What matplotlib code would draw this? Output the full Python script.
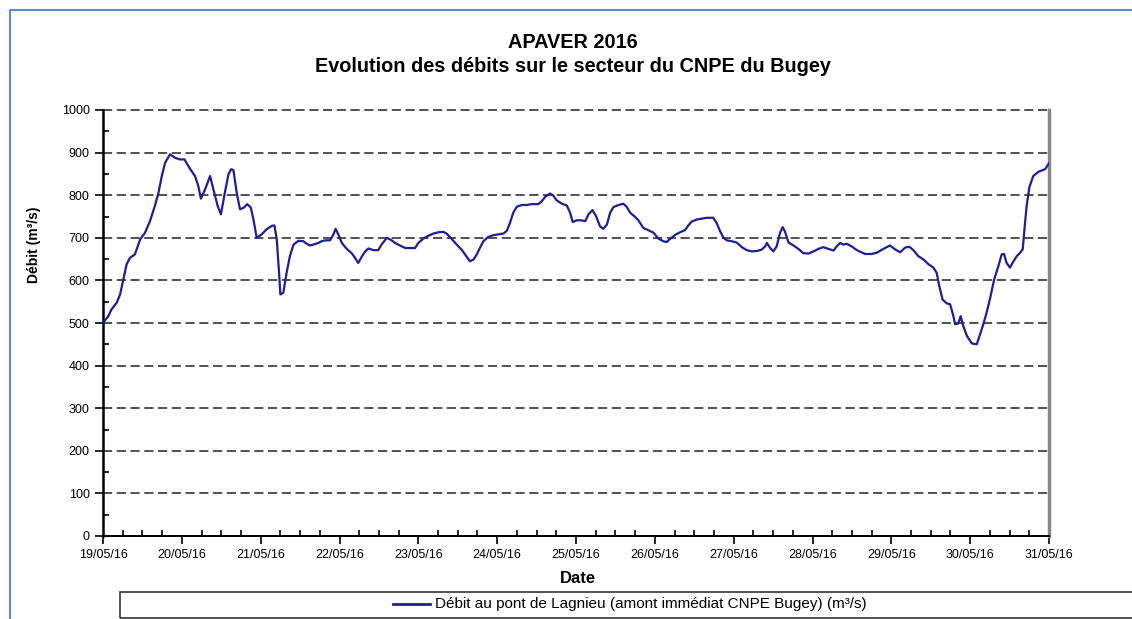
import numpy as np
import pandas as pd
import matplotlib
matplotlib.use("Agg")
import matplotlib.pyplot as plt
import matplotlib.dates as mdates
from matplotlib.lines import Line2D
from matplotlib.patches import Rectangle
from matplotlib.ticker import MultipleLocator

plt.rcParams['font.family'] = ['Liberation Sans', 'DejaVu Sans']

# hours since 19/05/16 00:00 and flow (m3/s)
hours = [0, 1.6, 2.6, 4.2, 5.2, 6.2, 7.2, 8.2, 9.7, 11.3, 12.8, 14.3, 15.8, 16.9, 17.9, 18.9,
         20.4, 21.9, 23.4, 24.8, 26.5, 28.0, 29.0, 29.8, 31.1, 32.6, 33.6, 34.9, 35.9, 37.1,
         38.2, 39.0, 39.7, 40.7, 41.7, 42.9, 43.9, 45.0, 45.8, 46.8, 48.3, 49.8, 51.4, 52.2,
         52.9, 53.6, 54.0, 54.9, 55.9, 56.9, 58.0, 59.5, 61.0, 62.0, 63.0, 64.0, 65.6, 66.6,
         67.6, 69.1, 70.1, 70.8, 71.7, 72.7, 74.2, 75.7, 76.7, 77.7, 78.8, 79.8, 80.8, 82.3,
         83.8, 84.8, 86.4, 87.9, 88.9, 90.4, 92.0, 93.5, 95.0, 96.0, 97.5, 99.1, 100.6, 102.1,
         103.6, 104.6, 106.2, 107.7, 109.2, 110.7, 111.7, 112.8, 113.8, 114.8, 115.8, 117.3,
         118.8, 120.4, 121.9, 122.9, 123.9, 124.9, 126.0, 127.5, 129.0, 130.5, 132.5, 133.6,
         134.6, 136.1, 137.1, 138.1, 139.7, 141.2, 142.2, 143.0, 144.2, 145.7, 146.8, 147.8,
         149.0, 150.1, 151.3, 152.3, 153.4, 154.4, 155.4, 156.9, 158.4, 159.4, 160.5, 162.0,
         163.0, 164.5, 166.0, 167.6, 169.1, 170.6, 171.6, 172.6, 174.2, 175.7, 177.2, 178.2,
         179.2, 180.8, 182.3, 183.8, 185.8, 186.8, 187.9, 188.9, 189.9, 191.4, 192.9, 194.5,
         196.0, 197.5, 199.0, 200.5, 201.6, 202.1, 203.1, 204.1, 205.1, 206.1, 206.9, 207.6,
         208.7, 210.2, 211.7, 213.2, 214.8, 216.3, 217.8, 219.3, 220.8, 222.4, 223.4, 224.4,
         225.4, 226.4, 227.9, 229.5, 232.0, 234.0, 235.6, 237.6, 239.6, 241.1, 242.7, 244.2,
         245.5, 246.7, 248.2, 249.8, 251.3, 252.8, 253.8, 254.6, 255.6, 256.9, 257.9, 258.9,
         259.4, 260.4, 261.1, 261.9, 263.0, 264.5, 266.0, 267.0, 268.0, 269.0, 270.1, 271.3,
         272.6, 273.6, 274.3, 275.1, 276.1, 277.2, 278.2, 279.2, 280.0, 280.7, 281.2, 282.0,
         283.2, 284.8, 286.8, 288.0]
debit = [500, 516, 532, 548, 567, 602, 638, 653, 661, 696, 712, 739, 775, 806, 845, 876,
         896, 888, 884, 884, 862, 845, 822, 792, 814, 845, 814, 775, 755, 806,
         849, 861, 859, 806, 767, 771, 779, 771, 743, 700, 708, 720, 728, 729,
         696, 618, 567, 571, 618, 657, 684, 693, 692, 686, 682, 684, 688, 692,
         694, 694, 707, 721, 707, 688, 674, 664, 653, 641, 656, 668, 675, 671,
         671, 684, 700, 694, 688, 682, 676, 676, 676, 688, 698, 705, 710, 713,
         714, 710, 697, 684, 672, 656, 645, 649, 661, 677, 692, 702,
         706, 708, 710, 716, 735, 759, 773, 777, 777, 779, 779, 786,
         796, 804, 799, 788, 780, 776, 759, 737, 741, 741, 739, 755,
         765, 751, 727, 721, 731, 759, 772, 777, 780, 773, 759, 749,
         741, 723, 718, 712, 698, 692, 690, 697, 707, 713, 718, 729,
         738, 743, 745, 747, 747, 735, 715, 700, 694, 692, 689, 678,
         671, 668, 669, 672, 680, 688, 676, 668, 680, 711, 725, 715,
         689, 682, 674, 664, 663, 668, 674, 678, 674, 670, 680, 688,
         684, 686, 680, 671, 662, 662, 665, 674, 682, 673, 666, 677,
         679, 671, 657, 649, 638, 630, 618, 587, 555, 546, 544, 516,
         497, 499, 516, 493, 470, 452, 450, 473, 497, 524, 559, 602,
         634, 661, 662, 641, 630, 645, 657, 665, 673, 735, 775, 818,
         845, 855, 861, 875]

start = pd.Timestamp('2016-05-19')
end = pd.Timestamp('2016-05-31')
dates = start + pd.to_timedelta(hours, unit='h')

fig = plt.figure(figsize=(11.32, 6.19), dpi=100)
ax = fig.add_axes([103/1132, 1-536/619, 946/1132, 426/619])

ax.plot(dates, debit, color='#1e1e96', lw=1.6, zorder=3)

ax.set_xlim(start, end)
ax.set_ylim(0, 1000)
ax.yaxis.set_major_locator(MultipleLocator(100))
ax.yaxis.set_minor_locator(MultipleLocator(50))
ax.xaxis.set_major_locator(mdates.DayLocator())
ax.xaxis.set_minor_locator(mdates.HourLocator(byhour=[6, 12, 18]))
ax.xaxis.set_major_formatter(mdates.DateFormatter('%d/%m/%y'))

for v in range(100, 1001, 100):
    ax.axhline(v, color='#222222', lw=1.1, ls=(0, (6, 3)), zorder=1, clip_on=False)

ax.tick_params(which='major', direction='out', length=6, width=1.2, labelsize=9)
ax.tick_params(which='minor', direction='in', length=4, width=1.2)
ax.tick_params(axis='x', pad=3)

ax.spines['top'].set_visible(False)
ax.spines['left'].set_linewidth(1.8)
ax.spines['bottom'].set_linewidth(1.4)
ax.spines['right'].set_color('#888888')
ax.spines['right'].set_linewidth(2.5)

ax.set_xlabel('Date', fontsize=12, fontweight='bold')
ax.xaxis.set_label_coords((578-103)/946, -(571-536)/426)
ax.set_ylabel('Débit (m³/s)', fontsize=10, fontweight='bold')
ax.yaxis.set_label_coords((41-103)/946, (536-245)/426)

fig.text(0.506, 1-43/619, 'APAVER 2016', ha='center', va='center',
         fontsize=14.3, fontweight='bold')
fig.text(0.506, 1-66/619, 'Evolution des débits sur le secteur du CNPE du Bugey',
         ha='center', va='center', fontsize=14.3, fontweight='bold')

# legend box below the chart
fig.patches.append(Rectangle((120/1132, 1-618/619), 1.05, 26/619,
                             transform=fig.transFigure, fill=False,
                             edgecolor='#333333', lw=1.2))
fig.lines.append(Line2D([393/1132, 430/1132], [1-604/619, 1-604/619],
                        transform=fig.transFigure, color='#1e1e96', lw=2))
fig.text(435/1132, 1-604/619,
         'Débit au pont de Lagnieu (amont immédiat CNPE Bugey) (m³/s)',
         ha='left', va='center', fontsize=11)

# blue frame of the page
fig.lines.append(Line2D([10/1132, 10/1132, 1.0], [0, 1-10/619, 1-10/619],
                        transform=fig.transFigure, color='#5b8bd5', lw=1.5))

fig.savefig('out.png', dpi=100)
